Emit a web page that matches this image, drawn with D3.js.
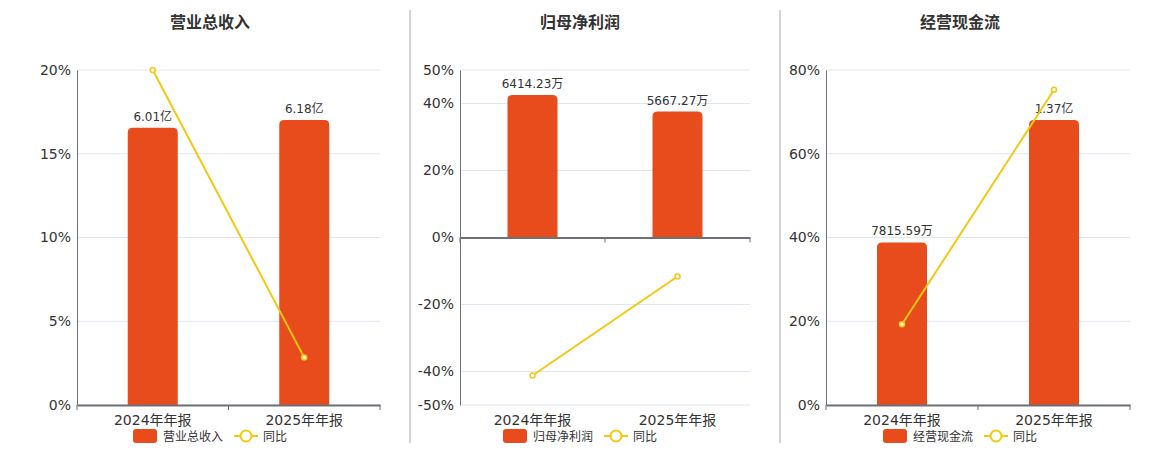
<!DOCTYPE html>
<html lang="zh">
<head>
<meta charset="UTF-8">
<title>财务指标</title>
<script src="https://d3js.org/d3.v7.min.js"></script>
<style>
  body { margin: 0; background: #fff; }
  svg { display: block; font-family: "DejaVu Sans", "Noto Sans CJK SC", sans-serif; }
</style>
</head>
<body>
<div id="chart"></div>
<script>
// ---- data ----
const categories = ["2024年年报", "2025年年报"];

const revenueValues = [6.01, 6.18];          // 亿
const revenueLabels = ["6.01亿", "6.18亿"];
const revenueYoy = [20.0, 2.83];             // %

const profitValues = [6414.23, 5667.27];     // 万
const profitLabels = ["6414.23万", "5667.27万"];
const profitYoy = [-41.2, -11.65];

const cashValues = [7815.59, 13700];         // 万
const cashLabels = ["7815.59万", "1.37亿"];
const cashYoy = [19.3, 75.3];

const revenueTicks = [0, 5, 10, 15, 20];
const profitTicks = [-50, -40, -20, 0, 20, 40, 50];
const cashTicks = [0, 20, 40, 60, 80];

// ---- layout ----
const W = 1160, H = 450;
const plotTop = 70, plotBottom = 405;
const barColor = "#e84b1c";
const lineColor = "#f2c811";

const panels = [
  { title: "营业总收入", values: revenueValues, labels: revenueLabels, yoy: revenueYoy,
    ticks: revenueTicks, pct: [0, 20], bar: [0, 7.264], x0: 77, x1: 380, cx: 210 },
  { title: "归母净利润", values: profitValues, labels: profitLabels, yoy: profitYoy,
    ticks: profitTicks, pct: [-50, 50], bar: [-7536, 7536], x0: 460, x1: 750, cx: 580 },
  { title: "经营现金流", values: cashValues, labels: cashLabels, yoy: cashYoy,
    ticks: cashTicks, pct: [0, 80], bar: [0, 16100], x0: 826, x1: 1130, cx: 960 }
];

const svg = d3.select("#chart").append("svg")
  .attr("width", W).attr("height", H);

// separators
[410, 780].forEach(x => {
  svg.append("line")
    .attr("x1", x).attr("x2", x).attr("y1", 10).attr("y2", 443)
    .attr("stroke", "#aaa").attr("stroke-width", 1);
});

panels.forEach(p => {
  const g = svg.append("g");

  const x = d3.scaleBand().domain(categories).range([p.x0, p.x1]);
  const y = d3.scaleLinear().domain(p.pct).range([plotBottom, plotTop]);
  const yb = d3.scaleLinear().domain(p.bar).range([plotBottom, plotTop]);
  const zeroY = y(0);

  // title
  g.append("text")
    .attr("x", p.cx).attr("y", 28)
    .attr("text-anchor", "middle")
    .attr("font-size", 16).attr("font-weight", "bold")
    .attr("fill", "#333")
    .style("font-family", "'Noto Sans CJK SC', sans-serif")
    .text(p.title);

  // grid
  g.append("g").selectAll("line")
    .data(p.ticks)
    .join("line")
    .attr("x1", p.x0).attr("x2", p.x1)
    .attr("y1", d => y(d)).attr("y2", d => y(d))
    .attr("stroke", "#e0e6f1").attr("stroke-width", 1);

  // y axis
  const yAxis = g.append("g")
    .attr("transform", `translate(${p.x0},0)`)
    .call(d3.axisLeft(y).tickValues(p.ticks).tickFormat(d => d + "%").tickSize(0).tickPadding(6));
  yAxis.select(".domain").attr("stroke", "#6e7079");
  yAxis.selectAll("text").attr("font-size", 14).attr("fill", "#333")
    .style("font-family", "'DejaVu Sans', sans-serif");

  // bars with rounded top
  const bw = 50, r = 5;
  g.append("g").selectAll("path")
    .data(p.values)
    .join("path")
    .attr("fill", barColor)
    .attr("d", (d, i) => {
      const cx = x(categories[i]) + x.bandwidth() / 2;
      const l = cx - bw / 2, rr = cx + bw / 2;
      const t = yb(d), b = yb(0);
      return `M${l},${b}V${t + r}Q${l},${t} ${l + r},${t}H${rr - r}Q${rr},${t} ${rr},${t + r}V${b}Z`;
    });

  // bar labels
  g.append("g").selectAll("text")
    .data(p.values)
    .join("text")
    .attr("x", (d, i) => x(categories[i]) + x.bandwidth() / 2)
    .attr("y", d => yb(d) - 7)
    .attr("text-anchor", "middle")
    .attr("font-size", 12).attr("fill", "#333")
    .text((d, i) => p.labels[i]);

  // x axis at zero
  const xAxis = g.append("g")
    .attr("transform", `translate(0,${zeroY})`)
    .call(d3.axisBottom(x).tickSize(0).tickFormat(""));
  xAxis.select(".domain").attr("stroke", "#6e7079").attr("stroke-width", 2);
  xAxis.selectAll(".tick").remove();
  [p.x0, (p.x0 + p.x1) / 2, p.x1].forEach(tx => {
    xAxis.append("line")
      .attr("x1", tx).attr("x2", tx).attr("y1", 0).attr("y2", 5)
      .attr("stroke", "#6e7079");
  });

  // x labels at bottom
  g.append("g").selectAll("text")
    .data(categories)
    .join("text")
    .attr("x", d => x(d) + x.bandwidth() / 2)
    .attr("y", 425)
    .attr("text-anchor", "middle")
    .attr("font-size", 14).attr("fill", "#333")
    .text(d => d);

  // yoy line
  const line = d3.line()
    .x((d, i) => x(categories[i]) + x.bandwidth() / 2)
    .y(d => y(d));
  g.append("path")
    .datum(p.yoy)
    .attr("d", line)
    .attr("fill", "none").attr("stroke", lineColor).attr("stroke-width", 2);
  g.append("g").selectAll("circle")
    .data(p.yoy)
    .join("circle")
    .attr("cx", (d, i) => x(categories[i]) + x.bandwidth() / 2)
    .attr("cy", d => y(d))
    .attr("r", 2.5)
    .attr("fill", "#fff").attr("stroke", lineColor).attr("stroke-width", 1.5);

  // legend
  const lg = g.append("g").attr("transform", `translate(${p.cx - 77},436)`);
  lg.append("rect").attr("x", 0).attr("y", -7).attr("width", 24).attr("height", 14)
    .attr("rx", 3).attr("fill", barColor);
  lg.append("text").attr("x", 30).attr("y", 4.5)
    .attr("font-size", 12).attr("fill", "#333").text(p.title);
  lg.append("line").attr("x1", 101).attr("x2", 125).attr("y1", 0).attr("y2", 0)
    .attr("stroke", lineColor).attr("stroke-width", 2);
  lg.append("circle").attr("cx", 113).attr("cy", 0).attr("r", 5.5)
    .attr("fill", "#fff").attr("stroke", lineColor).attr("stroke-width", 2);
  lg.append("text").attr("x", 130).attr("y", 4.5)
    .attr("font-size", 12).attr("fill", "#333").text("同比");
});
</script>
</body>
</html>
